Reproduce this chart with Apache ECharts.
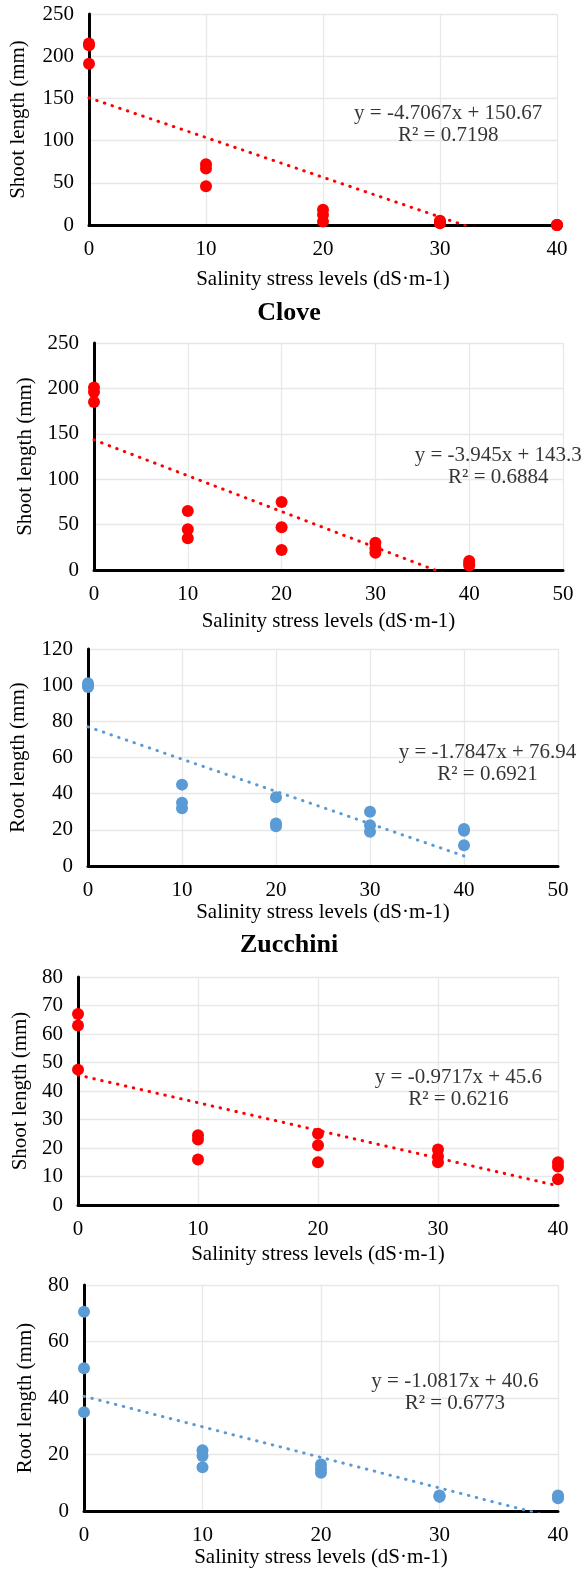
<!DOCTYPE html>
<html>
<head>
<meta charset="utf-8">
<script src="https://cdn.jsdelivr.net/npm/echarts@6/dist/echarts.min.js"></script>
<style>
  html, body { margin: 0; padding: 0; background: #ffffff; }
  #chart { width: 585px; height: 1569px; }
</style>
</head>
<body>
<div id="chart"></div>
<script>
// Salinity treatments (dS·m-1)
const salinity = [0, 10, 20, 30, 40];

// Replicate measurements (mm) at each salinity level
const shootA        = [[215, 213, 191], [72, 67, 46], [18, 12, 4], [5, 3, 2], [0, 0, 0]];
const cloveShoot    = [[201, 196, 185], [65, 45, 35], [75, 47, 22], [30, 24, 19], [10, 7, 5]];
const cloveRoot     = [[101, 99, 100], [45, 35, 32], [38, 23.5, 22], [30, 22.5, 19], [20.5, 19.5, 11.5]];
const zucchiniShoot = [[67, 63, 47.5], [24.5, 23, 16], [25, 21, 15], [19.5, 17, 15], [15, 13.5, 9]];
const zucchiniRoot  = [[70.5, 50.5, 35], [21.5, 19.5, 15.5], [16.5, 13.5, 15], [5.5, 5, 5.3], [5.5, 4.5, 5]];

// Linear trend lines: [slope, intercept, R²]
const shootAFit        = [-4.7067, 150.67, 0.7198];
const cloveShootFit    = [-3.945, 143.3, 0.6884];
const cloveRootFit     = [-1.7847, 76.94, 0.6921];
const zucchiniShootFit = [-0.9717, 45.6, 0.6216];
const zucchiniRootFit  = [-1.0817, 40.6, 0.6773];

// Axis ranges: [max, interval]
const shootAAxis        = { x: [40, 10], y: [250, 50] };
const cloveShootAxis    = { x: [50, 10], y: [250, 50] };
const cloveRootAxis     = { x: [50, 10], y: [120, 20] };
const zucchiniShootAxis = { x: [40, 10], y: [80, 10] };
const zucchiniRootAxis  = { x: [40, 10], y: [80, 20] };

const panelTitles = ['Clove', 'Zucchini'];
const xTitle = 'Salinity stress levels (dS·m-1)';
const shootTitle = 'Shoot length (mm)';
const rootTitle = 'Root length (mm)';

const RED = '#FF0000';
const BLUE = '#5B9BD5';
const FONT = "'Liberation Serif', 'Times New Roman', serif";

const panels = [
  { values: shootA, fit: shootAFit, axis: shootAAxis, color: RED, yName: shootTitle,
    grid: { left: 89, top: 14, width: 468, height: 211 }, yNameGap: 60, xNameGap: 44, labelAt: [30.7, 119.5] },
  { values: cloveShoot, fit: cloveShootFit, axis: cloveShootAxis, color: RED, yName: shootTitle,
    grid: { left: 94, top: 343, width: 469, height: 227 }, yNameGap: 58, xNameGap: 41, labelAt: [43.1, 113.5] },
  { values: cloveRoot, fit: cloveRootFit, axis: cloveRootAxis, color: BLUE, yName: rootTitle,
    grid: { left: 86, top: 649, width: 472, height: 217 }, yNameGap: 59, xNameGap: 33, labelAt: [42.5, 56.6] },
  { values: zucchiniShoot, fit: zucchiniShootFit, axis: zucchiniShootAxis, color: RED, yName: shootTitle,
    grid: { left: 78, top: 977, width: 480, height: 228 }, yNameGap: 47, xNameGap: 39, labelAt: [31.7, 40.8] },
  { values: zucchiniRoot, fit: zucchiniRootFit, axis: zucchiniRootAxis, color: BLUE, yName: rootTitle,
    grid: { left: 84, top: 1285, width: 474, height: 226 }, yNameGap: 48, xNameGap: 33, labelAt: [31.3, 42.1] }
];

const grids = [], xAxes = [], yAxes = [], series = [];

panels.forEach((p, i) => {
  grids.push(Object.assign({ containLabel: false }, p.grid));

  xAxes.push({
    gridIndex: i, type: 'value', min: 0, max: p.axis.x[0], interval: p.axis.x[1],
    name: xTitle, nameLocation: 'middle', nameGap: p.xNameGap,
    nameTextStyle: { fontFamily: FONT, fontSize: 21, color: '#000' },
    axisLine: { show: true, onZero: false, lineStyle: { color: '#000', width: 3 } },
    axisTick: { show: false },
    axisLabel: { fontFamily: FONT, fontSize: 21, color: '#000', margin: 14 },
    splitLine: { show: true, lineStyle: { color: '#E8E8E8', width: 1.3 } }
  });

  yAxes.push({
    gridIndex: i, type: 'value', min: 0, max: p.axis.y[0], interval: p.axis.y[1],
    name: p.yName, nameLocation: 'middle', nameGap: p.yNameGap,
    nameTextStyle: { fontFamily: FONT, fontSize: 21, color: '#000' },
    axisLine: { show: true, onZero: false, lineStyle: { color: '#000', width: 3 } },
    axisTick: { show: false },
    axisLabel: { fontFamily: FONT, fontSize: 21, color: '#000', margin: 15 },
    splitLine: { show: true, lineStyle: { color: '#E8E8E8', width: 1.3 } }
  });

  // measured points
  const pts = [];
  salinity.forEach((s, k) => p.values[k].forEach(v => pts.push([s, v])));
  series.push({
    type: 'scatter', xAxisIndex: i, yAxisIndex: i, data: pts,
    symbol: 'circle', symbolSize: 12,
    itemStyle: { color: p.color, opacity: 1 }, z: 3, silent: true
  });

  // fitted trend line over the measured range, clipped at the axes
  const [m, b, r2] = p.fit;
  const x0 = salinity[0], x1 = salinity[salinity.length - 1];
  series.push({
    type: 'line', xAxisIndex: i, yAxisIndex: i,
    data: [[x0, b + m * x0], [x1, b + m * x1]],
    showSymbol: false, clip: true, silent: true, z: 4,
    lineStyle: { color: p.color, width: 3, type: [0.5, 7.6], cap: 'round' }
  });

  // trend equation and R²
  series.push({
    type: 'scatter', xAxisIndex: i, yAxisIndex: i, data: [p.labelAt],
    symbolSize: 0, silent: true, z: 5, clip: false,
    label: {
      show: true, position: 'inside', align: 'center', verticalAlign: 'middle',
      fontFamily: FONT, fontSize: 21, color: '#000', lineHeight: 22,
      formatter: () => `y = ${m}x + ${b}\nR² = ${r2}`
    }
  });
});

const chart = echarts.init(document.getElementById('chart'), null, { renderer: 'canvas' });
chart.setOption({
  backgroundColor: '#ffffff',
  animation: false,
  grid: grids,
  xAxis: xAxes,
  yAxis: yAxes,
  series: series,
  graphic: [
    { type: 'text', x: 289, y: 313, style: { text: panelTitles[0], font: `bold 26px ${FONT}`, fill: '#000', align: 'center', verticalAlign: 'middle' } },
    { type: 'text', x: 289, y: 945, style: { text: panelTitles[1], font: `bold 26px ${FONT}`, fill: '#000', align: 'center', verticalAlign: 'middle' } }
  ]
});
</script>
</body>
</html>
